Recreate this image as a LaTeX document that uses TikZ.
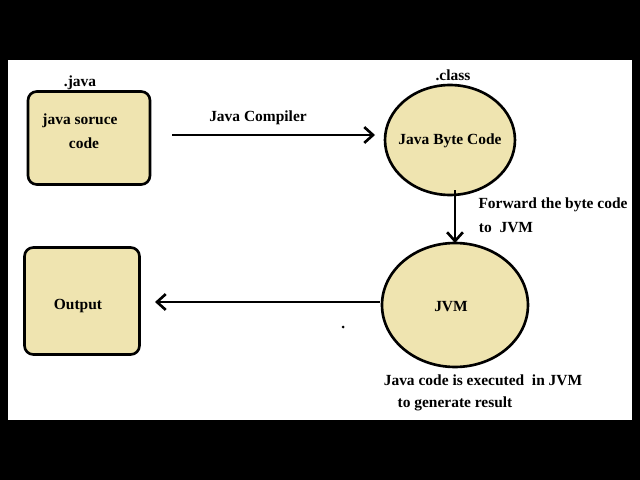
\documentclass[tikz,border=0pt]{standalone}
\usepackage{fontspec}
\setmainfont{Liberation Serif}
\usetikzlibrary{shapes,positioning,calc,arrows.meta}
\definecolor{beige}{RGB}{239,228,176}
\tikzset{
  blk/.style={draw, line width=1.5pt, fill=beige, rounded corners=5pt},
  bub/.style={draw, line width=1.5pt, fill=beige, ellipse},
  lbl/.style={font=\bfseries\fontsize{8.8}{10}\selectfont},
  arr/.style={-{Straight Barb[length=5pt,width=9pt]}, line width=1.5pt}
}
\begin{document}
\begin{tikzpicture}[x=0.02cm, y=-0.02cm]
  \fill[black] (0,0) rectangle (640,480);
  \fill[white] (8,60) rectangle (632,420);
  \useasboundingbox (0,0) rectangle (640,480);

  % source and output boxes
  \node[blk, minimum width=2.44cm, minimum height=1.86cm] (src) at (89,138) {};
  \node[lbl] at (80,121) {java soruce};
  \node[lbl] at (84,143) {code};
  \node[lbl] at (80,83) {.java};

  \node[blk, minimum width=2.3cm, minimum height=2.14cm] (out) at (82,301) {};
  \node[lbl] at (78,306) {Output};

  % byte code and jvm
  \node[bub, minimum width=2.6cm, minimum height=2.2cm] (bc) at (450,140) {};
  \node[lbl] at (450,141) {Java Byte Code};
  \node[lbl] at (453,75) {.class};

  \node[bub, minimum width=2.92cm, minimum height=2.48cm] (jvm) at (455,305) {};
  \node[lbl] at (451,307) {JVM};

  % arrows
  \coordinate (c1) at (172,135);
  \coordinate (c2) at (375,135);
  \draw[arr] (c1) -- (c2);
  \node[lbl] at (258,118) {Java Compiler};

  \coordinate (d1) at (455,190);
  \coordinate (d2) at (455,243);
  \draw[arr] (d1) -- (d2);
  \node[lbl] at (553,205) {Forward the byte code};
  \node[lbl] at (506,228) {to\ \ JVM};

  \coordinate (e1) at (380,302);
  \coordinate (e2) at (155,302);
  \draw[arr] (e1) -- (e2);

  \fill (343,327) circle (1.5);
  \node[lbl] at (483,380) {Java code is executed\ \ in JVM};
  \node[lbl] at (455,404) {to generate result};
\end{tikzpicture}
\end{document}
